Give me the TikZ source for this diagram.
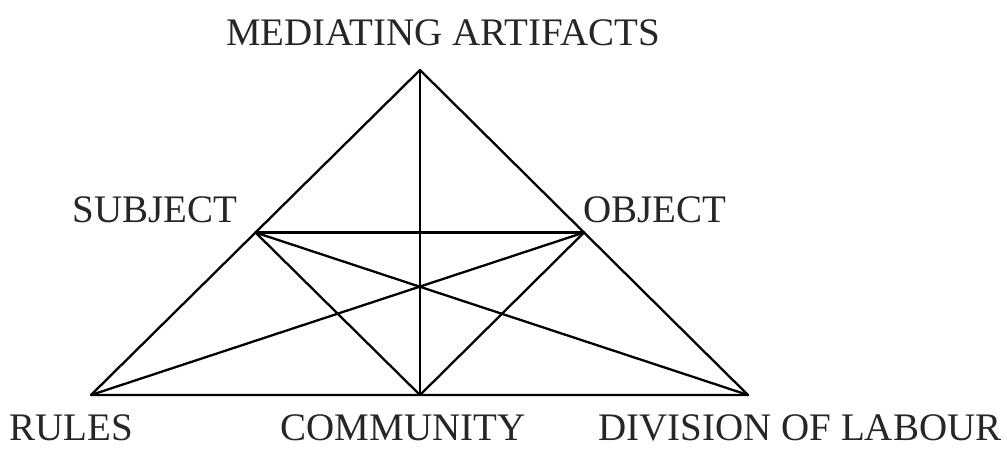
\documentclass[tikz,border=0pt]{standalone}
\usepackage{fontspec}
\setmainfont{Liberation Serif}
\usetikzlibrary{calc}
\begin{document}
\begin{tikzpicture}[x=1pt,y=-1pt,
  edge/.style={draw=black,line width=2.3pt,line cap=round,line join=round},
  lbl/.style={anchor=base,inner sep=0pt,text depth=0pt,font=\fontsize{39}{40}\selectfont,text=black!85}]
\useasboundingbox (0,0) rectangle (1007,450);
\coordinate (M) at (420,70);
\coordinate (R) at (91,395);
\coordinate (D) at (748,395);
\coordinate (C) at (420,395);
\coordinate (S) at ($(M)!0.5!(R)$);
\coordinate (O) at ($(M)!0.5!(D)$);
\node[lbl] (tM) at (443,45) {MEDIATING ARTIFACTS};
\node[lbl] (tS) at (155,222) {SUBJECT};
\node[lbl] (tO) at (655,222) {OBJECT};
\node[lbl] (tR) at (71,440) {RULES};
\node[lbl] (tC) at (403,440) {COMMUNITY};
\node[lbl] (tD) at (800,440) {DIVISION OF LABOUR};
\draw[edge] (M) -- (R) -- (D) -- cycle;
\draw[edge] (M) -- (C);
\draw[edge] (S) -- (O);
\draw[edge] (S) -- (C) -- (O);
\draw[edge] (S) -- (D);
\draw[edge] (O) -- (R);
\end{tikzpicture}
\end{document}
